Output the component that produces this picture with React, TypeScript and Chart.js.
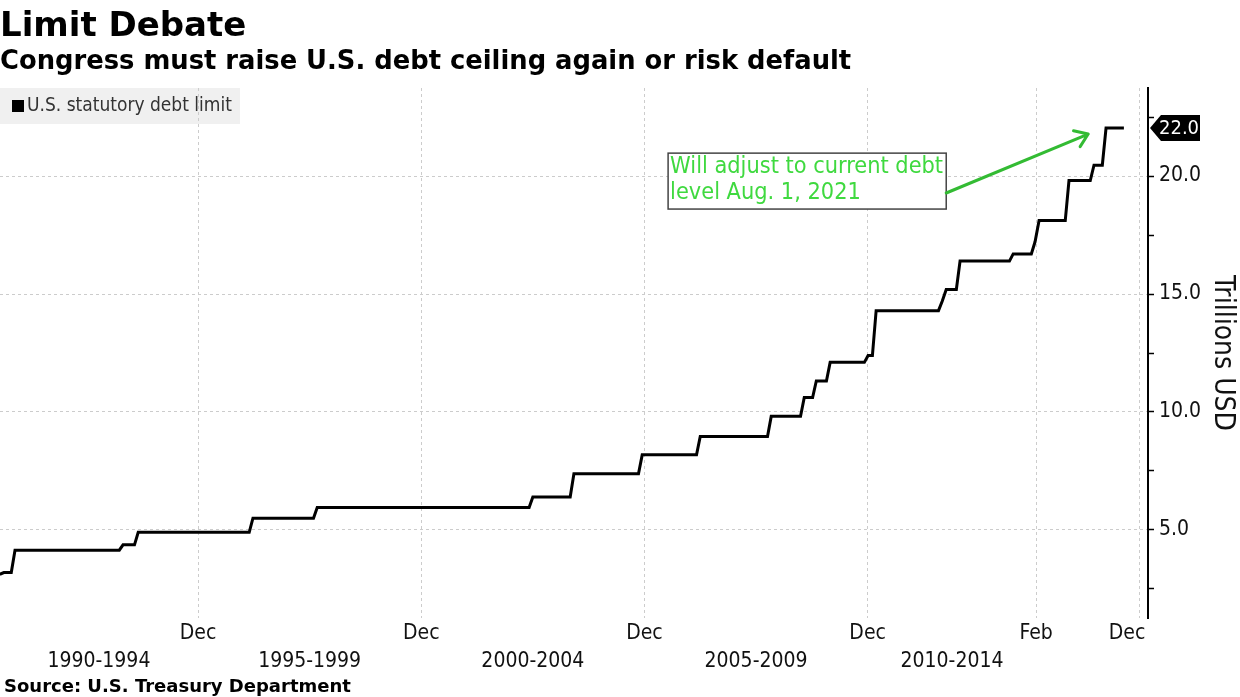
import React, { useEffect, useRef } from "react";
import { Chart, registerables } from "chart.js";

Chart.register(...registerables);

// ---- Data (x = position on the chart's compressed time axis, in "axis years") ----
const stepPositions = [
  1990.56, 1990.65, 1990.9, 1993.32, 1993.66, 1996.23, 1997.67, 2002.5, 2003.42,
  2004.95, 2006.25, 2007.84, 2008.58, 2008.85, 2009.16, 2010.01, 2010.19, 2011.67,
  2011.76, 2012.07, 2013.26, 2013.75, 2013.84, 2014.51, 2015.07, 2015.34,
];
const debtLimitTrillions = [
  3.123, 3.195, 4.145, 4.37, 4.9, 5.5, 5.95, 6.4, 7.384,
  8.184, 8.965, 9.815, 10.615, 11.315, 12.104, 12.394, 14.294, 14.694,
  15.194, 16.394, 16.699, 17.212, 18.113, 19.809, 20.456, 22.03,
];
const seriesEndPosition = 2015.74;

const gridTickPositions = [1995, 2000, 2005, 2010, 2013.775, 2016.09];
const dateLabelPositions = [1995, 2000, 2005, 2010, 2013.775, 2015.81];
const dateLabels = ["Dec", "Dec", "Dec", "Dec", "Feb", "Dec"];
const periodPositions = [1992.78, 1997.5, 2002.5, 2007.5, 2011.89];
const periodLabels = ["1990-1994", "1995-1999", "2000-2004", "2005-2009", "2010-2014"];
const yTickValues = [2.5, 5, 7.5, 10, 12.5, 15, 17.5, 20, 22.5];

const X_MIN = 1990.564;
const X_MAX = 2016.28;
const Y_MIN = 1.27;
const Y_MAX = 23.73;

const TITLE = "Limit Debate";
const SUBTITLE = "Congress must raise U.S. debt ceiling again or risk default";
const SOURCE = "Source: U.S. Treasury Department";
const LEGEND_LABEL = "U.S. statutory debt limit";
const Y_TITLE = "Trillions USD";
const NOTE_LINES = ["Will adjust to current debt", "level Aug. 1, 2021"];

// annotation anchors in data coordinates
const noteBox = { x0: 2005.53, y0: 20.97, x1: 2011.76, y1: 18.6 };
const noteArrow = { x0: 2011.76, y0: 19.28, x1: 2014.94, y1: 21.78 };

const FONT = "'DejaVu Sans', sans-serif";
const FONT_C = "'DejaVu Sans Condensed', 'DejaVu Sans', sans-serif";

function buildPoints() {
  const pts: { x: number; y: number }[] = [{ x: stepPositions[0], y: debtLimitTrillions[0] }];
  for (let i = 1; i < stepPositions.length; i++) {
    pts.push({ x: stepPositions[i] - 1 / 12, y: debtLimitTrillions[i - 1] });
    pts.push({ x: stepPositions[i], y: debtLimitTrillions[i] });
  }
  pts.push({ x: seriesEndPosition, y: debtLimitTrillions[debtLimitTrillions.length - 1] });
  return pts;
}

const decorPlugin = {
  id: "decor",
  beforeDraw(chart: any) {
    const ctx = chart.ctx;
    ctx.save();
    ctx.fillStyle = "#f0f0f0";
    ctx.fillRect(0, 88, 240, 36);
    ctx.fillStyle = "#000";
    ctx.fillRect(12, 100, 12, 12);
    ctx.fillStyle = "#333";
    ctx.font = `19px ${FONT_C}`;
    ctx.textBaseline = "middle";
    ctx.textAlign = "left";
    ctx.fillText(LEGEND_LABEL, 27, 106);
    ctx.restore();
  },
  afterDraw(chart: any) {
    const ctx = chart.ctx;
    const xs = chart.scales.x;
    const ys = chart.scales.y;
    ctx.save();
    // titles
    ctx.fillStyle = "#000";
    ctx.textAlign = "left";
    ctx.textBaseline = "alphabetic";
    ctx.font = `bold 34px ${FONT}`;
    ctx.fillText(TITLE, 0, 36);
    ctx.font = `bold 25.8px ${FONT}`;
    ctx.fillText(SUBTITLE, 0, 69);
    ctx.font = `bold 18px ${FONT}`;
    ctx.fillText(SOURCE, 4, 692);

    // annotation box
    const bx0 = xs.getPixelForValue(noteBox.x0);
    const by0 = ys.getPixelForValue(noteBox.y0);
    const bx1 = xs.getPixelForValue(noteBox.x1);
    const by1 = ys.getPixelForValue(noteBox.y1);
    ctx.fillStyle = "#fff";
    ctx.fillRect(bx0, by0, bx1 - bx0, by1 - by0);
    ctx.strokeStyle = "#444";
    ctx.lineWidth = 1.5;
    ctx.strokeRect(bx0, by0, bx1 - bx0, by1 - by0);
    ctx.fillStyle = "#3fd93f";
    ctx.font = `23.3px ${FONT_C}`;
    ctx.textBaseline = "middle";
    NOTE_LINES.forEach((t, i) => ctx.fillText(t, bx0 + 2, by0 + 14 + i * 26));

    // arrow
    const ax0 = xs.getPixelForValue(noteArrow.x0);
    const ay0 = ys.getPixelForValue(noteArrow.y0);
    const ax1 = xs.getPixelForValue(noteArrow.x1);
    const ay1 = ys.getPixelForValue(noteArrow.y1);
    ctx.strokeStyle = "#33bb33";
    ctx.lineWidth = 3;
    ctx.lineCap = "round";
    ctx.lineJoin = "round";
    ctx.beginPath();
    ctx.moveTo(ax0, ay0);
    ctx.lineTo(ax1, ay1);
    const ang = Math.atan2(ay0 - ay1, ax0 - ax1);
    const L = 15;
    const spread = (35 * Math.PI) / 180;
    ctx.moveTo(ax1 + L * Math.cos(ang + spread), ay1 + L * Math.sin(ang + spread));
    ctx.lineTo(ax1, ay1);
    ctx.lineTo(ax1 + L * Math.cos(ang - spread), ay1 + L * Math.sin(ang - spread));
    ctx.stroke();

    // last value tag
    const lastVal = debtLimitTrillions[debtLimitTrillions.length - 1];
    const ty = ys.getPixelForValue(lastVal);
    const tx = chart.chartArea.right + 2;
    ctx.fillStyle = "#000";
    ctx.beginPath();
    ctx.moveTo(tx, ty);
    ctx.lineTo(tx + 11, ty - 13);
    ctx.lineTo(tx + 50, ty - 13);
    ctx.lineTo(tx + 50, ty + 13);
    ctx.lineTo(tx + 11, ty + 13);
    ctx.closePath();
    ctx.fill();
    ctx.fillStyle = "#fff";
    ctx.font = `20px ${FONT_C}`;
    ctx.textAlign = "left";
    ctx.textBaseline = "middle";
    ctx.fillText(lastVal.toFixed(1), tx + 9, ty + 1);
    ctx.restore();
  },
};

export default function App() {
  const canvasRef = useRef<HTMLCanvasElement | null>(null);

  useEffect(() => {
    if (!canvasRef.current) return;
    const chart = new Chart(canvasRef.current, {
      type: "line",
      data: {
        datasets: [
          {
            label: LEGEND_LABEL,
            data: buildPoints(),
            borderColor: "#000",
            borderWidth: 3,
            pointRadius: 0,
            tension: 0,
            borderJoinStyle: "miter",
          },
        ],
      },
      options: {
        responsive: false,
        animation: false,
        devicePixelRatio: 1,
        layout: { padding: { left: 0, top: 88, right: 0, bottom: 19 } },
        plugins: { legend: { display: false }, tooltip: { enabled: false }, title: { display: false } },
        scales: {
          x: {
            type: "linear",
            position: "top",
            min: X_MIN,
            max: X_MAX,
            afterBuildTicks: (s: any) => {
              s.ticks = gridTickPositions.map((v) => ({ value: v }));
            },
            afterFit: (s: any) => {
              s.height = 0;
            },
            ticks: { display: false },
            grid: { color: "#cccccc", lineWidth: 1, drawTicks: false },
            border: { display: false, dash: [3, 3] },
          },
          xl: {
            type: "linear",
            position: "bottom",
            weight: 0,
            min: X_MIN,
            max: X_MAX,
            afterBuildTicks: (s: any) => {
              s.ticks = dateLabelPositions.map((v) => ({ value: v }));
            },
            afterFit: (s: any) => {
              s.height = 30;
            },
            ticks: {
              autoSkip: false,
              maxRotation: 0,
              minRotation: 0,
              padding: 3,
              color: "#111",
              font: { family: FONT_C, size: 21 },
              callback: (_v: any, i: number) => dateLabels[i],
            },
            grid: { display: false, drawTicks: false },
            border: { display: false },
          },
          x2: {
            type: "linear",
            position: "bottom",
            weight: 1,
            min: X_MIN,
            max: X_MAX,
            afterBuildTicks: (s: any) => {
              s.ticks = periodPositions.map((v) => ({ value: v }));
            },
            afterFit: (s: any) => {
              s.height = 30;
            },
            ticks: {
              autoSkip: false,
              maxRotation: 0,
              minRotation: 0,
              padding: 1,
              color: "#111",
              font: { family: FONT_C, size: 21 },
              callback: (_v: any, i: number) => periodLabels[i],
            },
            grid: { display: false, drawTicks: false },
            border: { display: false },
          },
          y: {
            type: "linear",
            position: "right",
            min: Y_MIN,
            max: Y_MAX,
            afterBuildTicks: (s: any) => {
              s.ticks = yTickValues.map((v) => ({ value: v }));
            },
            afterFit: (s: any) => {
              s.width = 92;
            },
            ticks: {
              autoSkip: false,
              padding: 5,
              color: "#111",
              font: { family: FONT_C, size: 21 },
              callback: (v: any) => (Number(v) % 5 === 0 ? Number(v).toFixed(1) : ""),
            },
            grid: {
              color: (c: any) => (c.tick && c.tick.value % 5 === 0 ? "#cccccc" : "rgba(0,0,0,0)"),
              lineWidth: 1,
              drawTicks: true,
              tickLength: 6,
              tickColor: "#000",
              tickWidth: 1.5,
            },
            border: { display: true, color: "#000", width: 2, dash: [3, 3] },
            title: {
              display: true,
              text: Y_TITLE,
              color: "#111",
              font: { family: FONT_C, size: 28 },
              padding: { top: 1, bottom: 0 },
            },
          },
        },
      },
      plugins: [decorPlugin],
    } as any);
    return () => chart.destroy();
  }, []);

  return (
    <div style={{ position: "absolute", left: 0, top: 0, width: 1240, height: 697, background: "#fff" }}>
      <canvas ref={canvasRef} width={1240} height={697} />
    </div>
  );
}
